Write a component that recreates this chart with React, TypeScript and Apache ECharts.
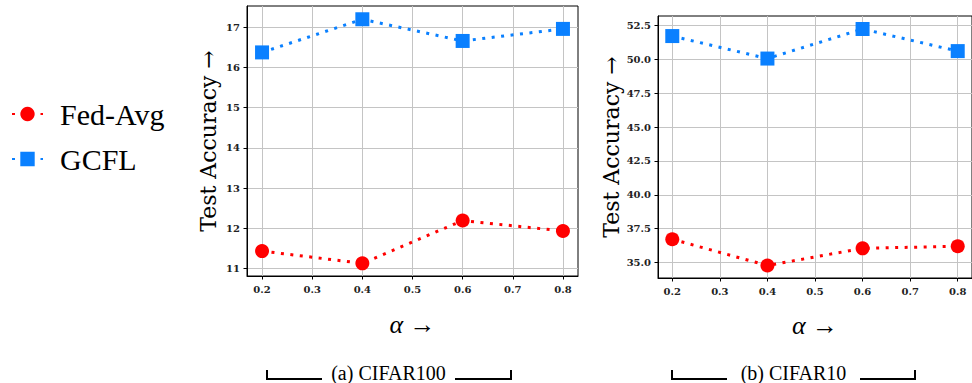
import React, { useEffect, useRef } from "react";
import * as echarts from "echarts";

const alphas = [0.2, 0.4, 0.6, 0.8];
const xTicks = [0.2, 0.3, 0.4, 0.5, 0.6, 0.7, 0.8];

const cifar100FedAvg = [11.43, 11.125, 12.19, 11.93];
const cifar100Gcfl = [16.375, 17.2, 16.66, 16.96];
const cifar100Ticks = [11, 12, 13, 14, 15, 16, 17];

const cifar10FedAvg = [36.72, 34.78, 36.05, 36.2];
const cifar10Gcfl = [51.71, 50.05, 52.23, 50.6];
const cifar10Ticks = [35, 37.5, 40, 42.5, 45, 47.5, 50, 52.5];

const seriesNames = ["Fed-Avg", "GCFL"];
const captions = ["(a) CIFAR100", "(b) CIFAR10"];

const RED = "#ff0000";
const BLUE = "#0a80ff";
const TICK_FONT = "'DejaVu Serif', serif";
const LABEL_FONT = "'Liberation Serif', 'Times New Roman', serif";

function pairs(xs: number[], ys: number[]) {
  return xs.map((x, i) => [x, ys[i]]);
}

function makeXAxis(gridIndex: number, nameGap: number) {
  return {
    type: "value",
    gridIndex,
    min: 0.17,
    max: 0.83,
    name: "α →",
    nameLocation: "middle",
    nameGap,
    nameTextStyle: { fontFamily: LABEL_FONT, fontSize: 26, color: "#000", fontStyle: "italic" },
    axisLine: { show: true, lineStyle: { color: "#000", width: 1 } },
    axisTick: { show: true, length: 3.5, customValues: xTicks, lineStyle: { color: "#000" } },
    axisLabel: {
      customValues: xTicks,
      formatter: (v: number) => v.toFixed(1),
      fontFamily: TICK_FONT,
      fontWeight: "bold",
      fontSize: 10,
      color: "#222",
      margin: 8,
    },
    splitLine: { show: true, lineStyle: { color: "#c4c4c4", width: 1 } },
  };
}

function makeYAxis(gridIndex: number, min: number, max: number, ticks: number[], digits: number, nameGap: number) {
  return {
    type: "value",
    gridIndex,
    min,
    max,
    name: "Test Accuracy →",
    nameLocation: "middle",
    nameGap,
    nameTextStyle: { fontFamily: TICK_FONT, fontSize: 22, color: "#000" },
    axisLine: { show: true, lineStyle: { color: "#000", width: 1 } },
    axisTick: { show: true, length: 3.5, customValues: ticks, lineStyle: { color: "#000" } },
    axisLabel: {
      customValues: ticks,
      formatter: (v: number) => v.toFixed(digits),
      fontFamily: TICK_FONT,
      fontWeight: "bold",
      fontSize: 10,
      color: "#222",
      margin: 7,
    },
    splitLine: { show: true, lineStyle: { color: "#c4c4c4", width: 1 } },
  };
}

function lineSeries(name: string, idx: number, data: number[][], isCircle: boolean) {
  return {
    name,
    type: "line",
    xAxisIndex: idx,
    yAxisIndex: idx,
    data,
    symbol: isCircle ? "circle" : "rect",
    symbolSize: 14,
    itemStyle: { color: isCircle ? RED : BLUE },
    lineStyle: { color: isCircle ? RED : BLUE, width: 3, type: [3, 6.5] },
    z: 3,
  };
}

function caption(text: string, x0: number, x1: number, tx0: number, tx1: number) {
  const yLine = 379;
  const yTop = 370;
  return [
    {
      type: "polyline",
      shape: { points: [[x0, yTop], [x0, yLine], [tx0, yLine]] },
      style: { stroke: "#000", lineWidth: 2, fill: null },
    },
    {
      type: "polyline",
      shape: { points: [[tx1, yLine], [x1, yLine], [x1, yTop]] },
      style: { stroke: "#000", lineWidth: 2, fill: null },
    },
    {
      type: "text",
      x: (tx0 + tx1) / 2,
      y: 372.5,
      style: {
        text,
        fontFamily: LABEL_FONT,
        fontSize: 20,
        fill: "#000",
        align: "center",
        verticalAlign: "middle",
      },
    },
  ];
}

function legendFor(name: string, top: number) {
  return {
    data: [name],
    left: 6,
    top,
    itemWidth: 31,
    itemHeight: 18,
    textStyle: { fontFamily: LABEL_FONT, fontSize: 30, color: "#000", padding: [0, 0, 0, 12] },
  };
}

export default function App() {
  const ref = useRef<HTMLDivElement>(null);
  useEffect(() => {
    if (!ref.current) return;
    const chart = echarts.init(ref.current, null, { renderer: "svg" });
    chart.setOption({
      animation: false,
      backgroundColor: "#fff",
      grid: [
        { left: 247, top: 6, width: 331, height: 270, show: true, borderColor: "#000", borderWidth: 1, backgroundColor: "transparent" },
        { left: 658, top: 16, width: 322, height: 262, show: true, borderColor: "#000", borderWidth: 1, backgroundColor: "transparent" },
      ],
      legend: [legendFor(seriesNames[0], 94), legendFor(seriesNames[1], 139)],
      xAxis: [makeXAxis(0, 35), makeXAxis(1, 34)],
      yAxis: [
        makeYAxis(0, 10.81, 17.53, cifar100Ticks, 0, 28),
        makeYAxis(1, 33.86, 53.19, cifar10Ticks, 1, 34),
      ],
      series: [
        lineSeries(seriesNames[0], 0, pairs(alphas, cifar100FedAvg), true),
        lineSeries(seriesNames[1], 0, pairs(alphas, cifar100Gcfl), false),
        lineSeries(seriesNames[0], 1, pairs(alphas, cifar10FedAvg), true),
        lineSeries(seriesNames[1], 1, pairs(alphas, cifar10Gcfl), false),
      ],
      graphic: [
        ...caption(captions[0], 267, 511, 322, 455),
        ...caption(captions[1], 672, 915, 727, 860),
      ],
    });
    return () => chart.dispose();
  }, []);
  return (
    <div
      ref={ref}
      style={{ position: "fixed", left: 0, top: 0, width: 972, height: 383 }}
    />
  );
}
